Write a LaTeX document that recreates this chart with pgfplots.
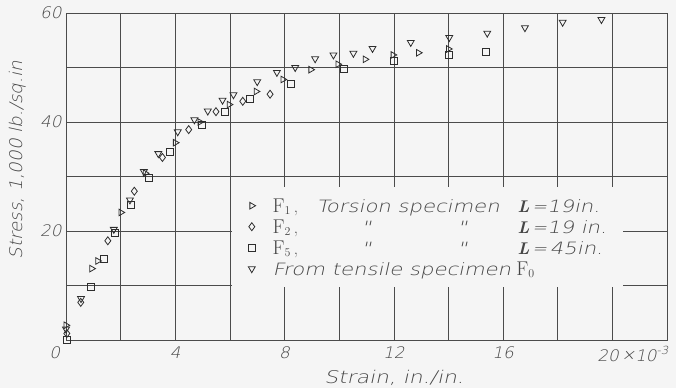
\documentclass[border=0pt]{standalone}
\usepackage{fontspec}
\usepackage{pgfplots}
\pgfplotsset{compat=1.18}
\newfontfamily\lbl{DejaVu Sans ExtraLight}[FakeSlant=0.22, FakeStretch=1.05]
\newfontfamily\lblw{DejaVu Sans ExtraLight}[FakeSlant=0.22, FakeStretch=1.25]
\newcommand{\FF}[1]{{\fontsize{20}{20}\selectfont F}$_{#1}$}
\definecolor{bg}{RGB}{245,245,245}
\definecolor{tx}{RGB}{70,70,70}
\definecolor{gr}{RGB}{75,75,75}
\definecolor{mk}{RGB}{45,45,45}
\begin{document}
\begin{tikzpicture}
\fill[bg] (-66bp,-48bp) rectangle (610bp,340bp);
\begin{axis}[
  scale only axis, width=601bp, height=327bp,
  xmin=0, xmax=22, ymin=0, ymax=60,
  xtick={0,4,8,12,16,20},
  xticklabels={\makebox[0pt][r]{0\kern6bp},4,8,12,16,{\makebox[0pt][l]{\kern-15bp 20\,\raisebox{0.5pt}{×}10\textsuperscript{-3}}}},
  ytick={20,40,60}, yticklabels={20,40,60},
  minor xtick={2,6,10,14,18,22}, minor ytick={10,30,50},
  grid=both,
  major grid style={draw=gr, line width=0.6bp},
  minor grid style={draw=gr, line width=0.6bp},
  major tick length=0pt, minor tick length=0pt,
  axis line style={draw=gr, line width=0.8bp},
  ticklabel style={font=\lbl\fontsize{16}{16}\selectfont, text=tx},
  xticklabel style={yshift=-3bp},
  yticklabel style={xshift=-1bp},
  xlabel={Strain, in./in.},
  ylabel={Stress, 1,000 lb./sq.in},
  every axis x label/.style={at={(axis description cs:0.546,-0.116)}, anchor=center,
    font=\lblw\fontsize{17.5}{17.5}\selectfont, text=tx},
  every axis y label/.style={at={(axis description cs:-0.0799,0.55)}, rotate=90, anchor=center,
    font=\lbl\fontsize{17.5}{17.5}\selectfont, text=tx},
  every axis plot/.append style={only marks, draw=mk, line width=0.8bp, fill=none},
  legend image code/.code={\draw[#1] plot coordinates {(0bp,0bp)};},
  legend cell align=left,
  legend style={draw=none, fill=bg, at={(axis cs:6.08,28.07)}, anchor=north west,
    inner xsep=16bp, inner ysep=8bp, column sep=17bp, row sep=0bp,
    nodes={inner sep=0bp, text height=17bp, text depth=4bp, anchor=west},
    font=\fontsize{17}{17}\selectfont, text=tx},
]
% F1 torsion, L=19in (right-pointing triangle)
\addplot[mark=triangle, mark options={rotate=-90}, mark size=3.8bp] coordinates {
(0.0,2.7) (0.94,13.1) (1.16,14.5) (2.01,23.4) (2.9,30.6) (4.0,36.2) (4.9,40.0)
(5.97,43.2) (6.96,45.6) (7.94,47.8) (8.96,49.6) (9.95,50.6) (10.95,51.5)
(11.97,52.3) (12.9,52.7) (14.0,53.4)
};
\addlegendentry{\rlap{\FF{1}\,,}\kern44bp\rlap{\lblw Torsion specimen}\kern201bp\textbf{\textit{L}}{\lbl\,=}{\lblw 19in.}}
% F2 (diamond)
\addplot[mark=diamond, mark size=4bp] coordinates {
(0.03,1.2) (0.54,6.9) (1.53,18.2) (2.5,27.3) (3.53,33.5) (4.49,38.6)
(5.49,41.9) (6.47,43.8) (7.47,45.1)
};
\addlegendentry{\rlap{\FF{2}\,,}\kern89bp\rlap{\lblw "}\kern96bp\rlap{\lblw "}\kern60bp\textbf{\textit{L}}{\lbl\,=}{\lblw 19 in.}}
% F5 (square)
\addplot[mark=square, mark size=3.5bp] coordinates {
(0.03,0.0) (0.92,9.7) (1.39,14.8) (1.8,19.6) (2.39,24.8) (3.04,29.7)
(3.81,34.5) (4.97,39.5) (5.8,41.9) (6.74,44.3) (8.23,47.0) (10.16,49.7)
(11.99,51.3) (14.0,52.3) (15.37,52.8)
};
\addlegendentry{\rlap{\FF{5}\,,}\kern89bp\rlap{\lblw "}\kern96bp\rlap{\lblw "}\kern60bp\textbf{\textit{L}}{\lbl\,=\,}{\lblw 45in.}}
% F0 tensile (down-pointing triangle)
\addplot[mark=triangle, mark options={rotate=180}, mark size=4bp] coordinates {
(0.0,2.0) (0.55,7.6) (1.75,20.3) (2.34,25.7) (2.85,30.9) (3.38,34.2)
(4.09,38.2) (4.7,40.4) (5.19,42.0) (5.73,44.0) (6.13,45.0) (7.0,47.4)
(7.72,49.1) (8.39,50.0) (9.12,51.6) (9.79,52.3) (10.52,52.6) (11.22,53.5)
(12.62,54.6) (14.03,55.5) (15.42,56.3) (16.8,57.3) (18.18,58.3) (19.6,58.8)
};
\addlegendentry{{\lblw From tensile specimen} \FF{0}}
\end{axis}
\pgfresetboundingbox
\useasboundingbox (-66bp,-48bp) rectangle (610bp,340bp);
\end{tikzpicture}
\end{document}
